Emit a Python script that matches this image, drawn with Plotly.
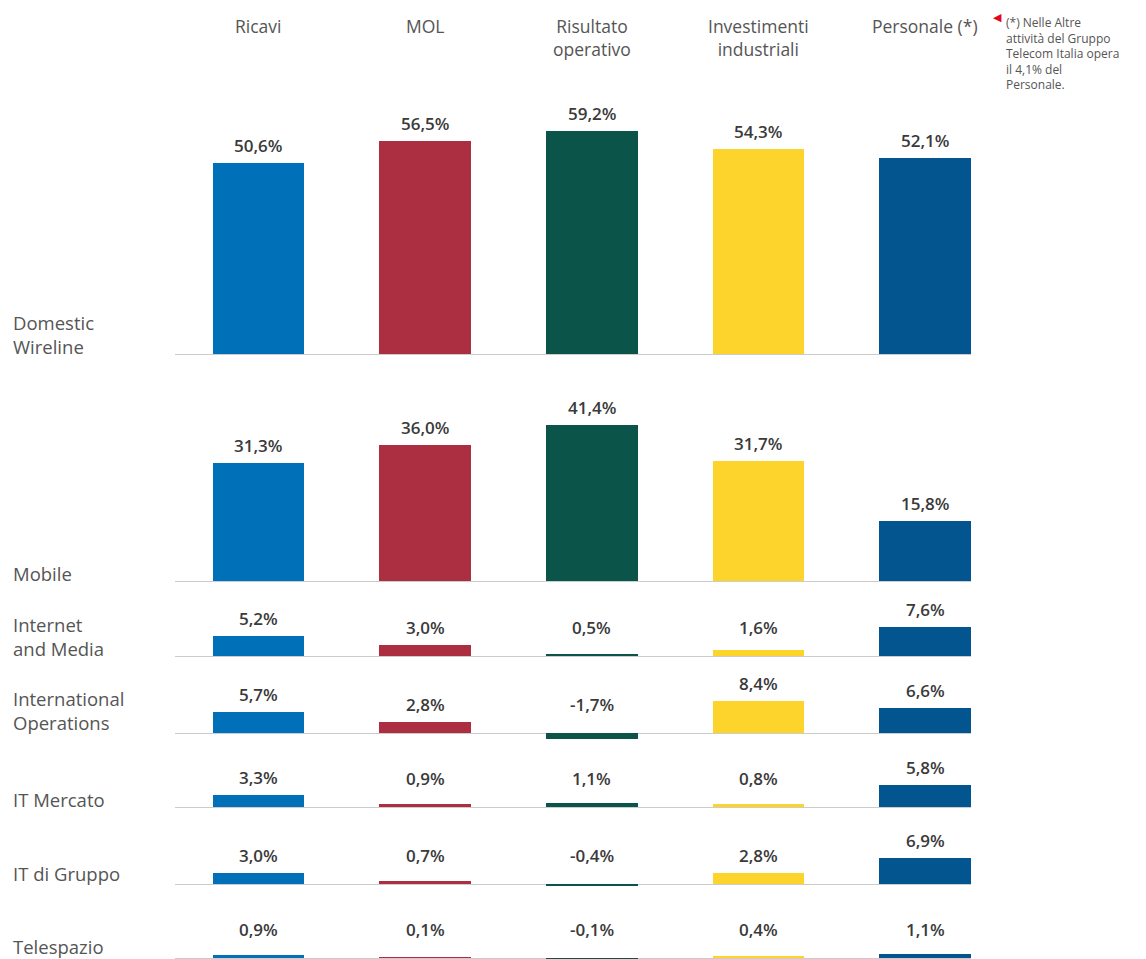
import plotly.graph_objects as go

# ---------------- data ----------------
units = ["Domestic<br>Wireline", "Mobile", "Internet<br>and Media",
         "International<br>Operations", "IT Mercato", "IT di Gruppo", "Telespazio"]
metrics = ["Ricavi", "MOL", "Risultato<br>operativo", "Investimenti<br>industriali", "Personale (*)"]

ricavi       = [50.6, 31.3, 5.2, 5.7, 3.3, 3.0, 0.9]
mol          = [56.5, 36.0, 3.0, 2.8, 0.9, 0.7, 0.1]
risultato    = [59.2, 41.4, 0.5, -1.7, 1.1, -0.4, -0.1]
investimenti = [54.3, 31.7, 1.6, 8.4, 0.8, 2.8, 0.4]
personale    = [52.1, 15.8, 7.6, 6.6, 5.8, 6.9, 1.1]

footnote = "(*) Nelle Altre<br>attività del Gruppo<br>Telecom Italia opera<br>il 4,1% del<br>Personale."

colors = ["#0071b9", "#ab2f41", "#0b5449", "#fcd42c", "#02558f"]

# ---------------- layout geometry ----------------
W, H = 1146, 959
SCALE = 3.77  # px per percentage point (common to all rows)
baselines = [354, 581, 656, 733, 807, 884, 958]
tops      = [100, 372, 598, 670, 748, 823, 898]
bottoms   = [370, 596, 668, 746, 820, 896, 959]
label_shift = [-6, -6, -6, -3, -6, -3, -2]

def py(px):
    return 1 - px / H

columns = [ricavi, mol, risultato, investimenti, personale]
xs = list(range(len(metrics)))

fig = go.Figure()
annotations = []

for r, unit in enumerate(units):
    vals = [col[r] for col in columns]
    yname = "y" if r == 0 else f"y{r+1}"
    fig.add_trace(go.Bar(
        x=xs, y=vals, width=0.55, marker=dict(color=colors, line=dict(width=0)),
        xaxis="x", yaxis=yname, showlegend=False, hoverinfo="skip",
    ))
    lo = -(bottoms[r] - baselines[r]) / SCALE
    hi = (baselines[r] - tops[r]) / SCALE
    axkey = "yaxis" if r == 0 else f"yaxis{r+1}"
    fig.layout[axkey] = dict(
        domain=[py(bottoms[r]), py(tops[r])], range=[lo, hi],
        showticklabels=False, showgrid=False, showline=False, ticks="",
        zeroline=True, zerolinecolor="#cccccc", zerolinewidth=1.2,
        anchor="x", fixedrange=True,
    )
    # value labels
    for i, v in enumerate(vals):
        annotations.append(dict(
            x=i, y=max(v, 3.0), xref="x", yref=yname,
            text=f"{v:.1f}".replace(".", ",") + "%",
            showarrow=False, yanchor="bottom", yshift=4,
            font=dict(family="Open Sans", size=17, color="#3a3a3a", weight=600),
        ))
    # row label
    annotations.append(dict(
        x=12 / W, y=0, xref="paper", yref=yname, text=unit,
        showarrow=False, xanchor="left", yanchor="bottom", align="left",
        yshift=label_shift[r], borderpad=0,
        font=dict(family="Open Sans", size=18.5, color="#555555"),
    ))

# column headers
for i, m in enumerate(metrics):
    annotations.append(dict(
        x=i, y=py(12), xref="x", yref="paper", text=m,
        showarrow=False, xanchor="center", yanchor="top", align="center",
        font=dict(family="Open Sans", size=17.5, color="#555555"),
    ))

# footnote
annotations.append(dict(
    x=1004 / W, y=py(12), xref="paper", yref="paper", text=footnote,
    showarrow=False, xanchor="left", yanchor="top", align="left",
    font=dict(family="Open Sans", size=12, color="#555555"),
))
annotations.append(dict(
    x=997 / W, y=py(18), xref="paper", yref="paper", text="◀",
    showarrow=False, xanchor="center", yanchor="middle",
    font=dict(family="DejaVu Sans", size=11, color="#e3061b"),
))

fig.update_layout(
    width=W, height=H, autosize=False,
    xaxis=dict(range=[-0.5, 4.275], domain=[175 / W, 971 / W], visible=False, fixedrange=True),
    annotations=annotations,
    margin=dict(l=0, r=0, t=0, b=0),
    paper_bgcolor="white", plot_bgcolor="white",
    bargap=0,
)

fig.write_html("out.html", config={"displayModeBar": False},
               post_script="document.body.style.margin='0';document.body.style.overflow='hidden';")
